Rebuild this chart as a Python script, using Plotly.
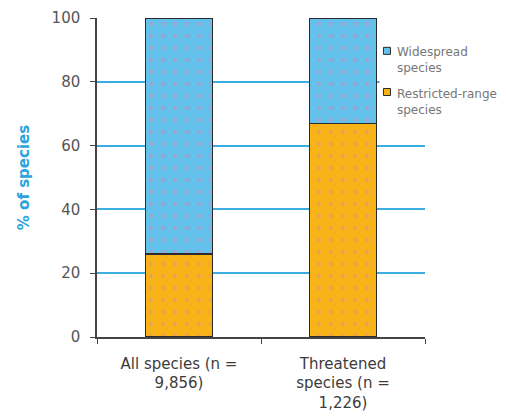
import plotly.graph_objects as go

categories = ["All species (n =<br>9,856)", "Threatened<br>species (n =<br>1,226)"]
restricted = [26, 67]
widespread = [74, 33]
series_names = ["Restricted-range<br>species", "Widespread<br>species"]
y_ticks = [0, 20, 40, 60, 80, 100]

blue = "#63C1EC"
orange = "#F8B318"
edge = "#2a2a2a"
FONT = "DejaVu Sans, Liberation Sans, Arial, sans-serif"

fig = go.Figure()
fig.add_trace(go.Bar(
    x=categories, y=restricted, name=series_names[0], showlegend=False,
    marker=dict(color=orange, line=dict(color=edge, width=1.5),
                pattern=dict(shape=".", fgcolor="#e09080", size=12, solidity=0.1)),
    width=0.41,
))
fig.add_trace(go.Bar(
    x=categories, y=widespread, name=series_names[1], showlegend=False,
    marker=dict(color=blue, line=dict(color=edge, width=1.5),
                pattern=dict(shape=".", fgcolor="#d08ab0", size=12, solidity=0.1)),
    width=0.41,
))

# legend box (drawn manually to match the small-marker legend of the original)
shapes = [dict(type="rect", xref="paper", yref="paper", x0=0.862, x1=1.0, y0=0.664, y1=0.944,
               fillcolor="white", line=dict(width=0), layer="above")]
annotations = []
legend_items = [(series_names[1], blue, 0.897, 0.867), (series_names[0], orange, 0.768, 0.737)]
for name, col, my, ty in legend_items:
    shapes.append(dict(type="rect", xref="paper", yref="paper",
                       x0=0.884 - 0.0107, x1=0.884 + 0.0107, y0=my - 0.011, y1=my + 0.011,
                       fillcolor=col, line=dict(color=edge, width=1), layer="above"))
    annotations.append(dict(xref="paper", yref="paper", x=0.909, y=ty, text=name,
                            showarrow=False, xanchor="left", yanchor="middle", align="left",
                            font=dict(family=FONT, size=12, color="#777777")))

fig.update_layout(
    barmode="stack",
    width=498, height=410,
    margin=dict(l=89, r=81, t=10, b=81),
    paper_bgcolor="white", plot_bgcolor="white",
    font=dict(family=FONT, color="#555555"),
    showlegend=False,
    shapes=shapes,
    annotations=annotations,
    xaxis=dict(range=[-0.5, 1.5], showline=True, linecolor="#444444", linewidth=1.5,
               ticks="outside", tickson="boundaries", ticklen=5, tickcolor="#444444",
               ticklabelstandoff=12,
               tickfont=dict(family=FONT, size=15, color="#3c3c3c"), showgrid=False,
               automargin=False),
    yaxis=dict(range=[0, 100], tickvals=y_ticks, showline=True, linecolor="#444444",
               linewidth=1.5, ticks="outside", ticklen=5, tickcolor="#444444",
               ticklabelstandoff=7,
               tickfont=dict(family=FONT, size=15, color="#555555"), automargin=False,
               showgrid=True, gridcolor="#3AAEE0", gridwidth=1.5, zeroline=False,
               title=dict(text="<b>% of species</b>",
                          font=dict(family=FONT, size=15, color="#2BA3DC"),
                          standoff=18)),
)

fig.write_html("out.html")
